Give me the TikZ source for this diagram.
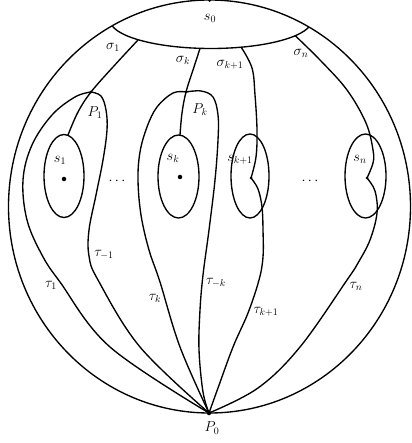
\documentclass[tikz,border=0pt]{standalone}
\begin{document}
\begin{tikzpicture}[x=1pt,y=-1pt,line width=1.35pt,line join=round,
  lbl/.style={font=\fontsize{14}{16}\selectfont,inner sep=0pt},
  bigdot/.style={circle,fill,inner sep=0pt,minimum size=4.5pt},
  smalldot/.style={circle,fill,inner sep=0pt,minimum size=3pt},
  curve/.style={smooth,tension=0.6}]
\useasboundingbox (0,0) rectangle (411,443);
% outer disc
\coordinate (C) at (209.5,206.5);
\draw (C) ellipse [x radius=201pt, y radius=206.5pt];
\node[smalldot] (top) at (209.5,0.5) {};
% s0 region
\begin{scope}
\clip (C) ellipse [x radius=201pt, y radius=206.5pt];
\draw (211,20) ellipse [x radius=101pt, y radius=28.5pt];
\end{scope}
% points
\node[bigdot] (P0) at (209,413) {};
\node[smalldot] (P1) at (91,92) {};
\node[smalldot] (Pk) at (186,92) {};
\node[bigdot] (d1) at (64,179) {};
\node[bigdot] (dk) at (180,177) {};
\node[smalldot] (dk1) at (251,178) {};
\node[smalldot] (dn) at (367,178) {};
% small ellipses
\draw (64,176) ellipse [x radius=20pt, y radius=41.5pt];
\draw (178.5,176.5) ellipse [x radius=20.5pt, y radius=41.5pt];
\draw (250,176) ellipse [x radius=19pt, y radius=42pt];
\draw (365.5,176) ellipse [x radius=20.5pt, y radius=42pt];
% sigma curves
\draw plot[curve] coordinates {(138,40) (113,67) (P1) (78,112) (68,135)};
\draw plot[curve] coordinates {(200,48.5) (193,70) (Pk) (182,113) (180,135)};
\draw plot[curve] coordinates {(241,47) (252,68) (255,95) (257,130) (256,157) (dk1)};
\draw plot[curve] coordinates {(295,35.5) (320,60) (347,90) (366,123) (373,150) (373,163) (dn)};
% tau curves
\draw plot[curve] coordinates {(P1) (75,97) (52,115) (32,145) (23,180) (27,220) (42,255) (60,282) (110,347) (P0)};
\draw plot[curve] coordinates {(P1) (101,96) (106,110) (107,130) (103,160) (96,195) (89,230) (89,256) (98,280) (140,347) (P0)};
\draw plot[curve] coordinates {(Pk) (173,93) (157,107) (147,127) (140,152) (138,180) (141,215) (149,250) (160,282) (180,347) (P0)};
\draw plot[curve] coordinates {(Pk) (201,91) (213,97) (218,115) (218,140) (215,180) (209,230) (203,275) (200,310) (199,350) (203,392) (P0)};
\draw plot[curve] coordinates {(dk1) (258,189) (262,207) (263,230) (263,257) (259,280) (248,313) (233,347) (218,388) (P0)};
\draw plot[curve] coordinates {(dn) (375,191) (377,213) (370,240) (358,263) (347,280) (300,347) (258,388) (P0)};
% labels
\node[lbl] (ls0) at (210,18) {$s_0$};
\node[lbl] (lsig1) at (113,47) {$\sigma_1$};
\node[lbl] (lsigk) at (183,60) {$\sigma_k$};
\node[lbl] (lsigk1) at (230,65) {$\sigma_{k+1}$};
\node[lbl] (lsign) at (301,53) {$\sigma_n$};
\node[lbl] (lP1) at (95,113) {$P_1$};
\node[lbl] (lPk) at (200,110) {$P_k$};
\node[lbl] (ls1) at (60,160) {$s_1$};
\node[lbl] (lsk) at (173,158) {$s_k$};
\node[lbl] (lsk1) at (240,160) {$s_{k+1}$};
\node[lbl] (lsn) at (360,159) {$s_n$};
\node[lbl] (dots1) at (117,181) {$\cdots$};
\node[lbl] (dots2) at (310,181) {$\cdots$};
\node[lbl] (lt1) at (51,285) {$\tau_1$};
\node[lbl] (ltm1) at (104,255) {$\tau_{-1}$};
\node[lbl] (ltk) at (155,298) {$\tau_k$};
\node[lbl] (ltmk) at (216,283) {$\tau_{-k}$};
\node[lbl] (ltk1) at (266,312) {$\tau_{k+1}$};
\node[lbl] (ltn) at (356,286) {$\tau_n$};
\node[lbl] (lP0) at (212,428) {$P_0$};
\end{tikzpicture}
\end{document}
